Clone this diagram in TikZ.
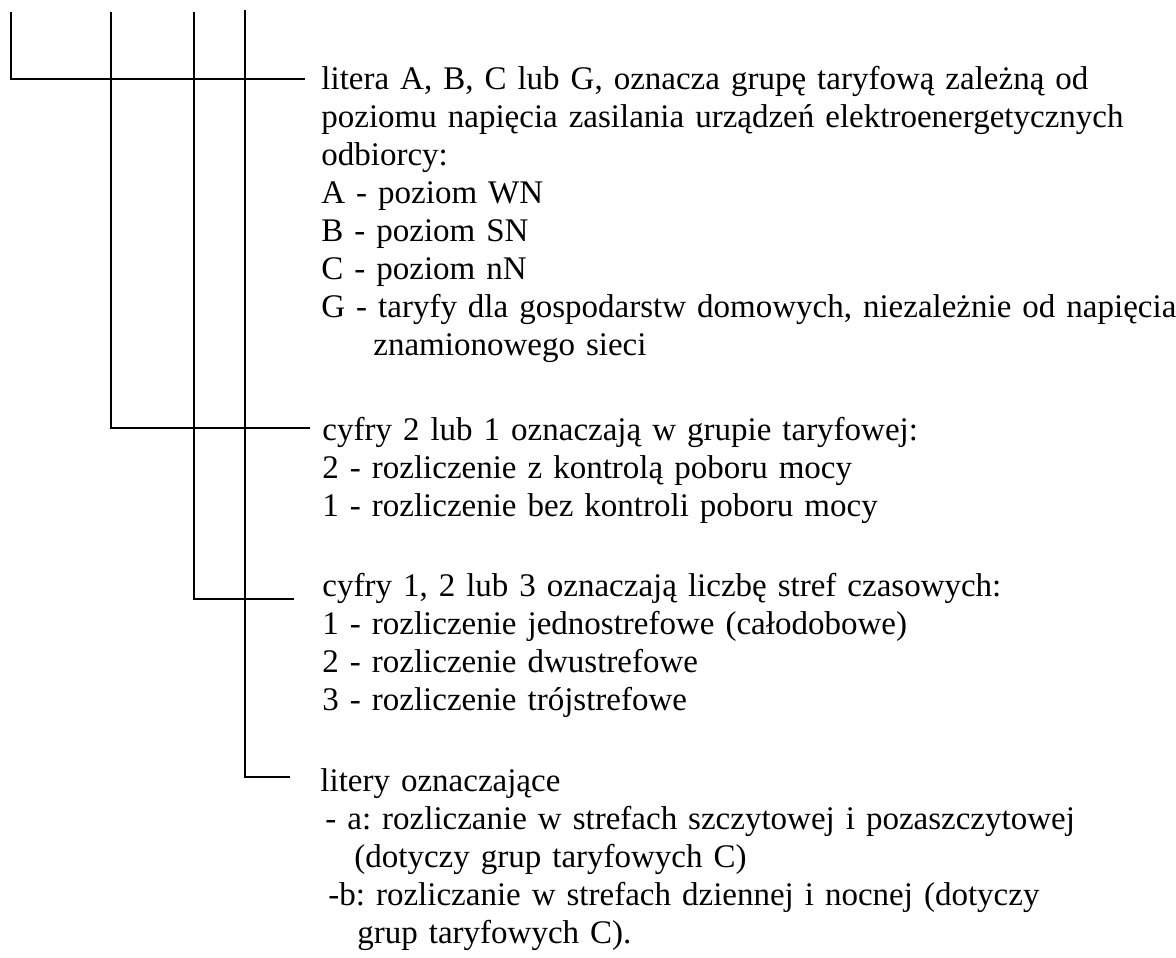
\documentclass[tikz,border=0pt]{standalone}
\usepackage{fontspec}
\setmainfont{Liberation Serif}
\frenchspacing
\usetikzlibrary{positioning,calc}

\begin{document}
\begin{tikzpicture}[x=0.5pt, y=-0.5pt,
        opis/.style={anchor=base west, inner sep=0pt, text width=460pt, align=left,
            font=\fontsize{16.5}{19}\selectfont},
        linia/.style={line width=1.4pt}]
        \useasboundingbox (0,0) rectangle (1176,957);

        % Column tops
        \coordinate (g1) at (11,12);
        \coordinate (g2) at (111,12);
        \coordinate (g3) at (194,12);
        \coordinate (g4) at (245,10);

        % Text blocks
        \node (litera) [opis] at (321,90) {litera A, B, C lub G, oznacza grupę taryfową zależną od\\
            poziomu napięcia zasilania urządzeń elektroenergetycznych\\
            odbiorcy:\\
            A - poziom WN\\
            B - poziom SN\\
            C - poziom nN\\
            G - taryfy dla gospodarstw domowych, niezależnie od napięcia\\
            \hspace*{26pt}znamionowego sieci};
        \node (cyfryA) [opis] at (322,440) {cyfry 2 lub 1 oznaczają w grupie taryfowej:\\
            2 - rozliczenie z kontrolą poboru mocy\\
            1 - rozliczenie bez kontroli poboru mocy};
        \node (cyfryB) [opis] at (322,596) {cyfry 1, 2 lub 3 oznaczają liczbę stref czasowych:\\
            1 - rozliczenie jednostrefowe (całodobowe)\\
            2 - rozliczenie dwustrefowe\\
            3 - rozliczenie trójstrefowe};
        \node (litery) [opis] at (320,791) {litery oznaczające\\
            \hspace*{2.5pt}- a: rozliczanie w strefach szczytowej i pozaszczytowej\\
            \hspace*{17pt}(dotyczy grup taryfowych C)\\
            \hspace*{4pt}-b: rozliczanie w strefach dziennej i nocnej (dotyczy\\
            \hspace*{18.5pt}grup taryfowych C).};

        % Lines
        \draw[linia] (g1) |- ([shift={(-16,-11)}]litera.base west);
        \draw[linia] (g2) |- ([shift={(-12,-12)}]cyfryA.base west);
        \draw[linia] (g3) |- ([shift={(-28,3)}]cyfryB.base west);
        \draw[linia] (g4) |- ([shift={(-30,-14)}]litery.base west);
    \end{tikzpicture}
\end{document}
